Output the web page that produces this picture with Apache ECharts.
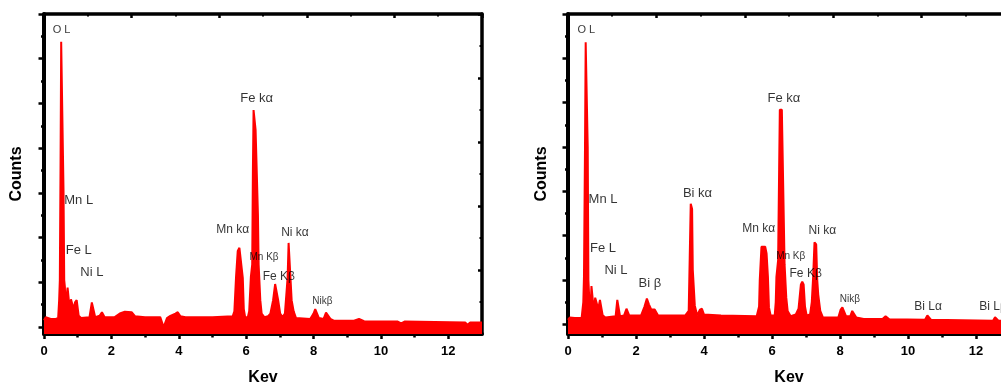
<!DOCTYPE html>
<html>
<head>
<meta charset="utf-8">
<script src="https://cdn.jsdelivr.net/npm/echarts@6/dist/echarts.min.js"></script>
<style>html,body{margin:0;padding:0;background:#fff}#c{width:1001px;height:385px}</style>
</head>
<body>
<div id="c"></div>
<script>
// ---- data (keV, counts in major-tick units) ----
const spectrumA = [
[0,0.15],[0.05,0.22],[0.1,0.2],[0.2,0.18],[0.35,0.18],[0.42,0.2],[0.45,0.6],[0.47,1.05],[0.49,3.5],[0.51,6.38],[0.56,6.38],[0.58,3.0],[0.6,1.05],[0.62,0.9],[0.64,0.3],[0.67,0.7],[0.7,0.88],[0.74,0.86],[0.77,0.35],[0.8,0.62],[0.85,0.65],[0.88,0.4],[0.92,0.55],[0.97,0.6],[1.0,0.58],[1.03,0.25],[1.1,0.2],[1.35,0.22],[1.42,0.55],[1.47,0.58],[1.52,0.22],[1.65,0.25],[1.72,0.33],[1.8,0.22],[2.1,0.22],[2.25,0.3],[2.4,0.34],[2.6,0.33],[2.7,0.24],[3.0,0.22],[3.45,0.22],[3.5,0.18],[3.55,0.0],[3.6,0.0],[3.65,0.2],[3.75,0.25],[3.8,0.22],[3.9,0.3],[3.97,0.33],[4.05,0.24],[4.2,0.22],[5.0,0.22],[5.6,0.24],[5.65,0.35],[5.7,1.12],[5.75,1.7],[5.8,1.77],[5.85,1.74],[5.9,1.1],[5.93,0.4],[5.97,0.22],[6.05,0.22],[6.09,0.35],[6.14,1.12],[6.18,1.4],[6.2,3.5],[6.22,4.85],[6.27,4.85],[6.28,4.41],[6.33,4.41],[6.35,2.5],[6.37,1.4],[6.42,0.6],[6.46,0.3],[6.54,0.22],[6.65,0.24],[6.72,0.3],[6.8,0.6],[6.86,0.96],[6.9,0.92],[6.95,0.6],[7.01,0.3],[7.08,0.22],[7.15,0.3],[7.2,0.8],[7.23,1.1],[7.26,1.88],[7.3,1.85],[7.35,0.6],[7.41,0.35],[7.48,0.2],[7.9,0.18],[8.0,0.3],[8.05,0.4],[8.1,0.38],[8.16,0.2],[8.3,0.18],[8.37,0.32],[8.42,0.33],[8.5,0.18],[8.6,0.14],[9.2,0.14],[9.35,0.18],[9.5,0.13],[10.5,0.12],[10.6,0.08],[10.7,0.12],[12.5,0.1],[12.57,0.05],[12.65,0.1],[13,0.1]
];
const spectrumB = [
[0,0.1],[0.05,0.15],[0.1,0.18],[0.2,0.14],[0.4,0.14],[0.45,0.5],[0.47,1.07],[0.5,4],[0.52,6.36],[0.56,6.36],[0.58,4],[0.6,1.0],[0.63,0.5],[0.66,0.3],[0.69,0.86],[0.73,0.84],[0.76,0.3],[0.8,0.6],[0.85,0.64],[0.89,0.35],[0.94,0.55],[0.98,0.59],[1.02,0.2],[1.1,0.15],[1.4,0.18],[1.45,0.55],[1.49,0.58],[1.53,0.18],[1.65,0.2],[1.72,0.35],[1.8,0.2],[2.15,0.2],[2.25,0.4],[2.32,0.58],[2.38,0.45],[2.45,0.33],[2.55,0.33],[2.65,0.2],[3.45,0.2],[3.55,0.3],[3.58,1.5],[3.61,2.72],[3.65,2.6],[3.67,1.23],[3.73,0.42],[3.8,0.2],[3.88,0.33],[3.94,0.35],[4.0,0.22],[4.5,0.2],[5.55,0.18],[5.62,0.4],[5.64,1.0],[5.69,1.75],[5.8,1.75],[5.84,1.6],[5.88,1.07],[5.91,0.38],[5.96,0.2],[6.08,0.2],[6.11,0.5],[6.13,1.07],[6.18,1.45],[6.21,3.5],[6.23,4.84],[6.29,4.84],[6.3,4.39],[6.34,4.39],[6.37,1.35],[6.42,0.6],[6.46,0.3],[6.55,0.18],[6.7,0.22],[6.78,0.35],[6.85,0.9],[6.89,0.96],[6.93,0.9],[6.97,0.4],[7.02,0.2],[7.12,0.22],[7.17,0.5],[7.21,1.07],[7.25,1.85],[7.3,1.8],[7.33,1.0],[7.36,0.67],[7.42,0.3],[7.5,0.15],[7.95,0.15],[8.02,0.33],[8.07,0.38],[8.12,0.35],[8.18,0.18],[8.3,0.18],[8.36,0.3],[8.4,0.31],[8.48,0.15],[8.7,0.12],[9.25,0.12],[9.34,0.18],[9.45,0.11],[10.5,0.1],[10.57,0.2],[10.62,0.21],[10.68,0.1],[12.5,0.08],[12.56,0.16],[12.6,0.17],[12.66,0.08],[13,0.08]
];
// peak annotations: [text, keV, height, fontSize]
const labelsA = [
["O L",0.52,6.64,11],["Mn L",1.03,2.83,13],["Fe L",1.03,1.71,13],["Ni L",1.42,1.21,13],
["Fe kα",6.31,5.12,13],["Mn kα",5.60,2.17,12],["Mn Kβ",6.53,1.55,10],["Fe Kβ",6.97,1.13,12],
["Ni kα",7.45,2.12,12],["Nikβ",8.26,0.57,10]
];
const labelsB = [
["O L",0.54,6.64,11],["Mn L",1.03,2.81,13],["Fe L",1.03,1.70,13],["Ni L",1.41,1.21,13],
["Bi β",2.41,0.93,13],["Bi kα",3.81,2.96,13],["Mn kα",5.61,2.15,12],["Fe kα",6.35,5.09,13],
["Mn Kβ",6.55,1.53,10],["Fe Kβ",6.99,1.14,12],["Ni kα",7.48,2.11,12],["Nikβ",8.29,0.56,10],
["Bi Lα",10.59,0.40,12],["Bi Lβ",12.5,0.40,12]
];
const xMajorTicks = [0,2,4,6,8,10,12];
const xMinorTicks = [1,3,5,7,9,11];
const yMajorTicks = [0,1,2,3,4,5,6,7];
const yMinorTicks = [0.5,1.5,2.5,3.5,4.5,5.5,6.5];
const yMinA = -0.157, yMinB = -0.22, yMax = 7, xMax = 13;

const FONT = '"Liberation Sans", Arial, sans-serif';
const black = '#000';

function axesFor(g, yMin, countsGap) {
  const xs = [
    { gridIndex:g, type:'value', min:0, max:xMax, position:'bottom',
      axisLine:{onZero:false,lineStyle:{color:black,width:4}},
      axisTick:{customValues:xMajorTicks,length:5,lineStyle:{color:black,width:2.5}},
      axisLabel:{customValues:xMajorTicks,color:black,fontWeight:'bold',fontSize:13,fontFamily:FONT,margin:11},
      splitLine:{show:false},
      name:'Kev', nameLocation:'middle', nameGap:36,
      nameTextStyle:{color:black,fontWeight:'bold',fontSize:16,fontFamily:FONT}},
    { gridIndex:g, type:'value', min:0, max:xMax, position:'bottom',
      axisLine:{show:false,onZero:false},
      axisTick:{customValues:xMinorTicks,length:3.5,lineStyle:{color:black,width:2.5}},
      axisLabel:{show:false}, splitLine:{show:false}},
    { gridIndex:g, type:'value', min:0, max:10, interval:2, position:'top',
      axisLine:{onZero:false,lineStyle:{color:black,width:3.5}},
      axisTick:{inside:true,length:4,lineStyle:{color:black,width:2.5}},
      minorTick:{show:true,splitNumber:2,length:2.5,lineStyle:{color:black,width:2}},
      axisLabel:{show:false}, splitLine:{show:false}, minorSplitLine:{show:false}}
  ];
  const ys = [
    { gridIndex:g, type:'value', min:yMin, max:yMax, position:'left',
      axisLine:{show:true,onZero:false,lineStyle:{color:black,width:4}},
      axisTick:{show:true,customValues:yMajorTicks,length:5.5,lineStyle:{color:black,width:2.5}},
      axisLabel:{show:false}, splitLine:{show:false},
      name:'Counts', nameLocation:'middle', nameGap:countsGap,
      nameTextStyle:{color:black,fontWeight:'bold',fontSize:16,fontFamily:FONT}},
    { gridIndex:g, type:'value', min:yMin, max:yMax, position:'left',
      axisLine:{show:false,onZero:false},
      axisTick:{show:true,customValues:yMinorTicks,length:3,lineStyle:{color:black,width:2.5}},
      axisLabel:{show:false}, splitLine:{show:false}},
    { gridIndex:g, type:'value', min:0, max:10, interval:2, position:'right',
      axisLine:{show:true,onZero:false,lineStyle:{color:black,width:3.5}},
      axisTick:{show:true,inside:true,length:4,lineStyle:{color:black,width:2.5}},
      minorTick:{show:true,splitNumber:2,length:2.5,lineStyle:{color:black,width:2}},
      axisLabel:{show:false}, splitLine:{show:false}, minorSplitLine:{show:false}}
  ];
  return {xs, ys};
}

const A = axesFor(0, yMinA, 19), B = axesFor(1, yMinB, 18);
const xAxis = A.xs.concat(B.xs);
const yAxis = A.ys.concat(B.ys);

function spectrumSeries(data, xi, yi) {
  return { type:'line', xAxisIndex:xi, yAxisIndex:yi, data:data, symbol:'none',
    lineStyle:{color:'#ff0000',width:2}, areaStyle:{color:'#ff0000',opacity:1,origin:'start'},
    z:2, silent:true, animation:false };
}
function labelSeries(labels, xi, yi) {
  return { type:'scatter', xAxisIndex:xi, yAxisIndex:yi, symbolSize:0, z:5, silent:true, animation:false,
    data: labels.map(l => ({ value:[l[1], l[2]], name:l[0],
      label:{ show:true, position:'inside', formatter:l[0], color:'#000', fontSize:l[3], fontFamily:FONT } })) };
}

const chart = echarts.init(document.getElementById('c'), null, {renderer:'canvas'});
chart.setOption({
  animation:false,
  backgroundColor:'#fff',
  grid:[
    {left:44, top:14, width:438, height:320, outerBoundsMode:'none', containLabel:false},
    {left:568, top:14, width:442, height:320, outerBoundsMode:'none', containLabel:false}
  ],
  xAxis: xAxis,
  yAxis: yAxis,
  series:[
    spectrumSeries(spectrumA, 0, 0),
    labelSeries(labelsA, 0, 0),
    spectrumSeries(spectrumB, 3, 3),
    labelSeries(labelsB, 3, 3)
  ]
});
</script>
</body>
</html>
